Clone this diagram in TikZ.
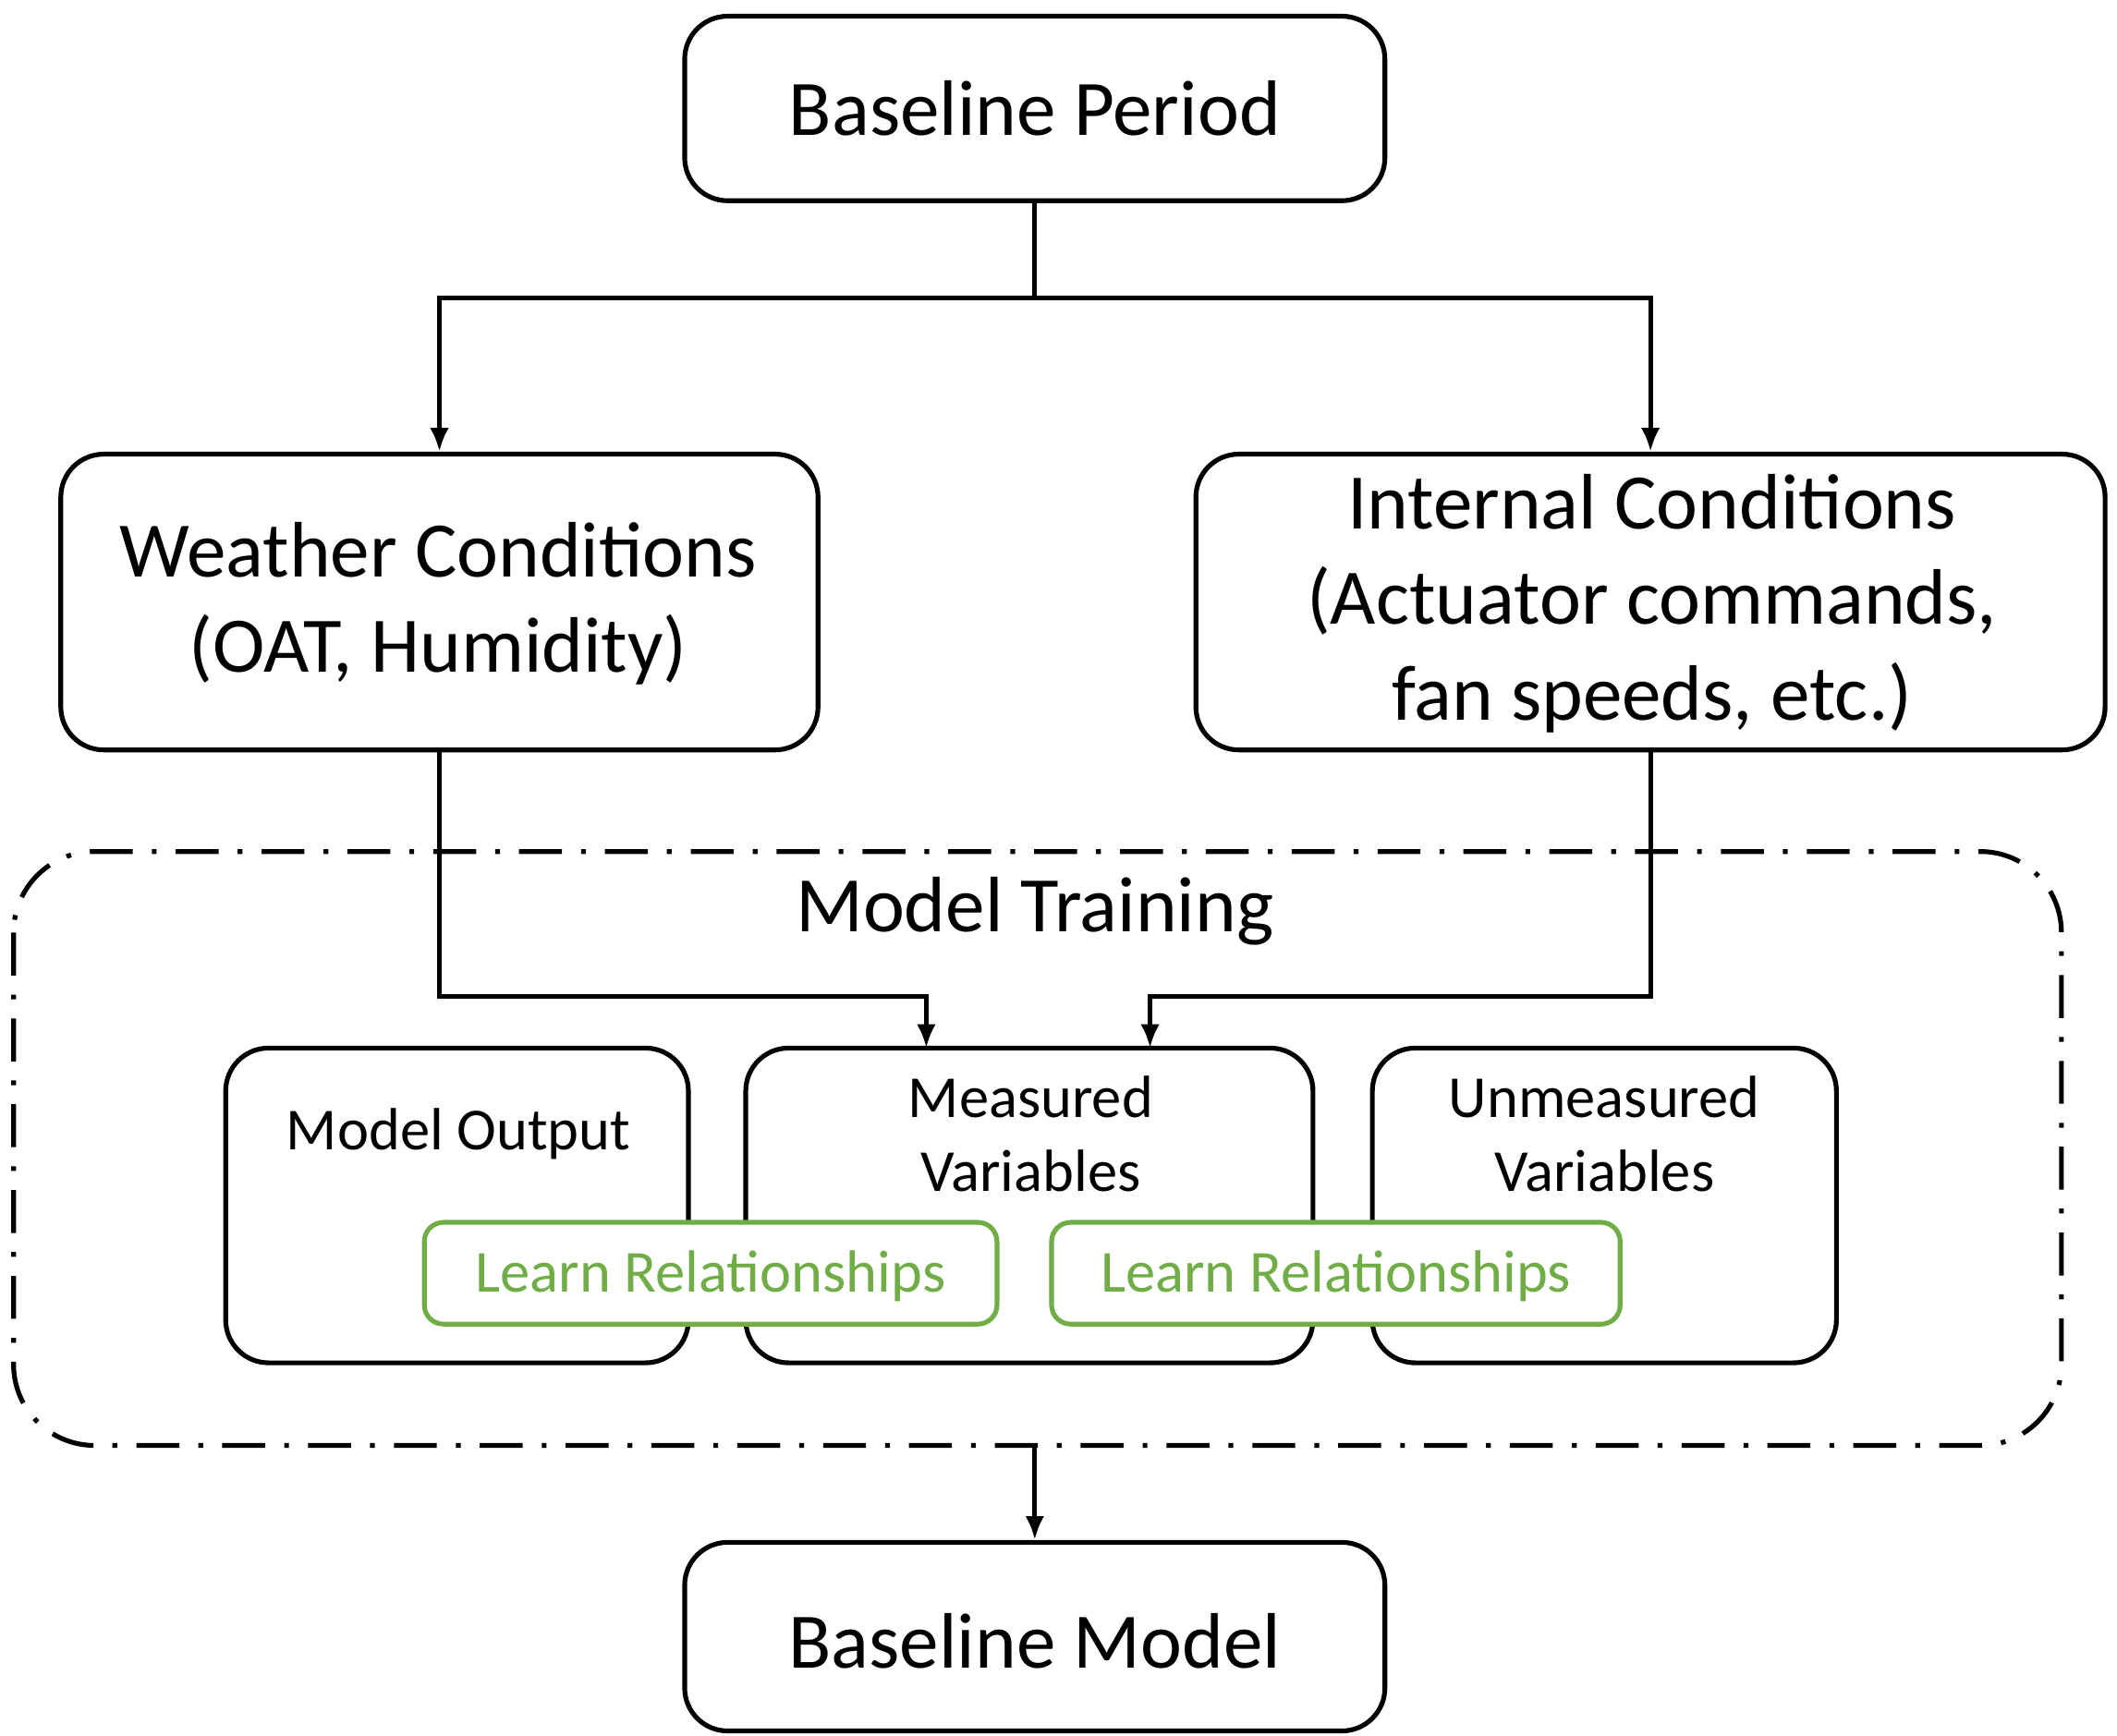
\documentclass[tikz,border=0pt]{standalone}
\usepackage{fontspec}
\setmainfont{Carlito}
\usetikzlibrary{arrows.meta}
\definecolor{lgreen}{RGB}{112,173,71}
\begin{document}
\begin{tikzpicture}[x=0.01cm,y=-0.01cm,
  box/.style={draw,line width=1pt,rounded corners=9pt,inner sep=0pt},
  gbox/.style={draw=lgreen,line width=1pt,rounded corners=4pt,fill=white,inner sep=0pt},
  big/.style={font=\fontsize{16.5}{20}\selectfont,align=center},
  small/.style={font=\fontsize{12.5}{15.5}\selectfont,align=center},
  arr/.style={line width=1pt,-{Latex[length=5pt,width=4pt]}},
  ln/.style={line width=1pt}]
\useasboundingbox (0,0) rectangle (1561,1280);
\node[box,minimum width=5.16cm,minimum height=1.36cm] (bp) at (763,80) {};
\node[big] at (763,80) {Baseline Period};
\node[box,minimum width=5.58cm,minimum height=2.18cm] (wc) at (324,444) {};
\node[big] at (323,445) {Weather Conditions\\(OAT, Humidity)};
\node[box,minimum width=6.70cm,minimum height=2.18cm] (ic) at (1217,444) {};
\node[big] at (1218,445) {Internal Conditions\\(Actuator commands,\\fan speeds, etc.)};
\draw[line width=1pt,rounded corners=17pt,dash pattern=on 9pt off 4pt on 1pt off 4pt] (10,628) rectangle (1520,1066);
\node[big] (mt) at (763,672) {Model Training};
\node[box,minimum width=3.41cm,minimum height=2.32cm] (mo) at (337,889) {};
\node[small] at (338,836) {Model Output};
\node[box,minimum width=4.18cm,minimum height=2.32cm] (mv) at (759,889) {};
\node[small] at (760,836) {Measured\\Variables};
\node[box,minimum width=3.42cm,minimum height=2.32cm] (uv) at (1183,889) {};
\node[small] at (1183,836) {Unmeasured\\Variables};
\node[gbox,minimum width=4.22cm,minimum height=0.75cm] (g1) at (524,939) {};
\node[small,text=lgreen] at (524,941) {Learn Relationships};
\node[gbox,minimum width=4.19cm,minimum height=0.75cm] (g2) at (985,939) {};
\node[small,text=lgreen] at (985,941) {Learn Relationships};
\node[box,minimum width=5.16cm,minimum height=1.39cm] (bm) at (763,1207) {};
\node[big] at (763,1210) {Baseline Model};
\coordinate (s) at (763,220);
\draw[ln] (bp.south) -- (s);
\draw[arr] (s) -| (wc.north);
\draw[arr] (s) -| (ic.north);
\coordinate (a1) at (683,773);
\coordinate (a2) at (848,773);
\draw[arr] (wc.south) |- (683,735) -- (a1);
\draw[arr] (ic.south) |- (848,735) -- (a2);
\coordinate (mb) at (763,1066);
\draw[arr] (mb) -- (bm.north);
\end{tikzpicture}
\end{document}
